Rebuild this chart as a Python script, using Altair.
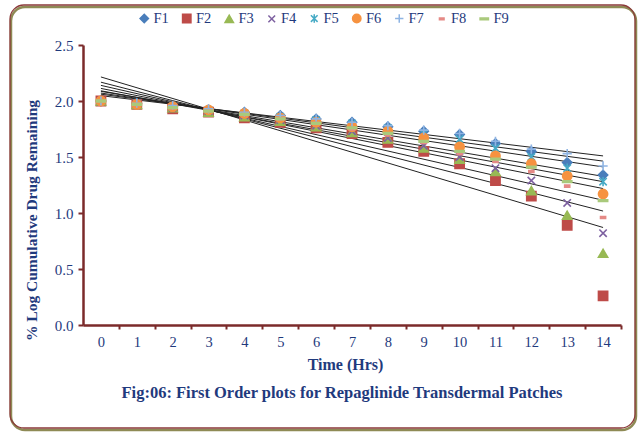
import altair as alt
import pandas as pd

times = list(range(15))
series_names = ["F1", "F2", "F3", "F4", "F5", "F6", "F7", "F8", "F9"]

F1 = [2.00, 1.98, 1.95, 1.92, 1.90, 1.87, 1.84, 1.81, 1.77, 1.73, 1.70, 1.62, 1.55, 1.45, 1.34]
F2 = [2.00, 1.97, 1.93, 1.90, 1.85, 1.81, 1.76, 1.71, 1.63, 1.55, 1.44, 1.29, 1.15, 0.89, 0.26]
F3 = [2.00, 1.97, 1.94, 1.90, 1.86, 1.82, 1.77, 1.72, 1.66, 1.58, 1.48, 1.37, 1.20, 0.98, 0.64]
F4 = [2.00, 1.97, 1.94, 1.91, 1.87, 1.83, 1.78, 1.73, 1.67, 1.60, 1.50, 1.40, 1.29, 1.09, 0.82]
F5 = [2.00, 1.98, 1.95, 1.92, 1.89, 1.86, 1.83, 1.80, 1.76, 1.71, 1.66, 1.58, 1.50, 1.40, 1.28]
F6 = [2.00, 1.97, 1.95, 1.92, 1.89, 1.85, 1.81, 1.77, 1.73, 1.67, 1.59, 1.51, 1.44, 1.33, 1.17]
F7 = [2.00, 1.98, 1.96, 1.93, 1.90, 1.87, 1.84, 1.81, 1.78, 1.74, 1.71, 1.64, 1.57, 1.53, 1.42]
F8 = [2.00, 1.97, 1.94, 1.91, 1.88, 1.84, 1.80, 1.75, 1.70, 1.63, 1.53, 1.46, 1.37, 1.24, 0.96]
F9 = [2.00, 1.97, 1.94, 1.91, 1.88, 1.84, 1.80, 1.76, 1.71, 1.64, 1.55, 1.48, 1.41, 1.28, 1.11]

all_series = [F1, F2, F3, F4, F5, F6, F7, F8, F9]

rows = []
for name, vals in zip(series_names, all_series):
    for t, v in zip(times, vals):
        rows.append({"s": name, "t": t, "v": v})
df = pd.DataFrame(rows)

colors = ["#4A7EBB", "#BE4B48", "#98B954", "#7D60A0", "#46AAC5",
          "#F69240", "#8EB4E3", "#E58A86", "#A9C97B"]
shapes = [
    "diamond",
    "square",
    "triangle-up",
    "M-0.8,-0.8L0.8,0.8M-0.8,0.8L0.8,-0.8",
    "M-0.8,-0.8L0.8,0.8M-0.8,0.8L0.8,-0.8M0,-1L0,1",
    "circle",
    "M-1,0L1,0M0,-1L0,1",
    "M-0.55,-0.22L0.55,-0.22L0.55,0.22L-0.55,0.22Z",
    "M-1,-0.18L1,-0.18L1,0.18L-1,0.18Z",
]

NAVY = "#1F3A7D"
AXC = "#7B2A2A"
SERIF = "Liberation Serif"
W, H = 538, 280
band = W / 15

color_scale = alt.Scale(domain=series_names, range=colors)
shape_scale = alt.Scale(domain=series_names, range=shapes)

x_axis = alt.Axis(
    values=times, format="d", title="Time (Hrs)",
    tickOffset=band / 2, labelOffset=-band / 2,
    labelOverlap=False, labelFlush=False,
    tickSize=4, tickColor=AXC, tickWidth=2,
    domainColor=AXC, domainWidth=2.5, grid=False,
    labelFont=SERIF, labelFontSize=14.5, labelColor=NAVY, labelPadding=6,
    titleFont=SERIF, titleFontSize=16, titleFontWeight="bold", titleColor=NAVY,
    titleX=262, titleY=39, titleBaseline="middle",
)
y_axis = alt.Axis(
    values=[0, 0.5, 1.0, 1.5, 2.0, 2.5], format=".1f",
    title="% Log Cumulative  Drug Remaining",
    tickSize=5, tickColor=AXC, tickWidth=2,
    domainColor=AXC, domainWidth=2.5, grid=False,
    labelFont=SERIF, labelFontSize=15, labelColor=NAVY, labelPadding=5,
    titleFont=SERIF, titleFontSize=15.5, titleFontWeight="bold", titleColor=NAVY,
    titleX=-52, titleY=175, titleBaseline="middle",
)
x_scale = alt.Scale(domain=[-0.5, 14.5], nice=False, zero=False)
y_scale = alt.Scale(domain=[0, 2.5], nice=False)

legend = alt.Legend(
    orient="none", legendX=54, legendY=-34, direction="horizontal", columns=9,
    title=None, labelFont=SERIF, labelFontSize=14.5, labelFontWeight="normal",
    labelColor=NAVY, symbolSize=70, symbolStrokeWidth=1.5, columnPadding=10.5,
    labelOffset=2,
)

points = alt.Chart(df).mark_point(size=85, strokeWidth=1.6, opacity=1).encode(
    x=alt.X("t:Q", scale=x_scale, axis=x_axis),
    y=alt.Y("v:Q", scale=y_scale, axis=y_axis),
    fill=alt.Fill("s:N", scale=color_scale, legend=legend, sort=series_names),
    stroke=alt.Stroke("s:N", scale=color_scale, legend=legend, sort=series_names),
    shape=alt.Shape("s:N", scale=shape_scale, legend=legend, sort=series_names),
)

lines = alt.Chart(df).transform_regression(
    "t", "v", groupby=["s"]
).mark_line(color="#222222", strokeWidth=1).encode(
    x=alt.X("t:Q", scale=x_scale, axis=x_axis),
    y=alt.Y("v:Q", scale=y_scale, axis=y_axis),
    detail="s:N",
)

frame_df = pd.DataFrame({"a": [0]})
shadow = alt.Chart(frame_df).mark_rect(
    fill=None, stroke="#8E8A55", strokeWidth=2.5, cornerRadius=14
).encode(x=alt.value(-72), y=alt.value(-38), x2=alt.value(553), y2=alt.value(385))
frame = alt.Chart(frame_df).mark_rect(
    fill=None, stroke="#8B3A3A", strokeWidth=1.3, cornerRadius=14
).encode(x=alt.value(-73), y=alt.value(-40), x2=alt.value(552), y2=alt.value(383))

caption = alt.Chart(frame_df).mark_text(
    text="Fig:06: First Order  plots for Repaglinide Transdermal Patches",
    font=SERIF, fontSize=16.5, fontWeight="bold", color=NAVY, align="center",
    baseline="middle",
).encode(x=alt.value(259), y=alt.value(348))

chart = alt.layer(shadow, frame, lines, points, caption).properties(
    width=W, height=H,
    padding={"left": 83, "top": 45, "right": 18, "bottom": 107},
    autosize=alt.AutoSizeParams(type="none"),
    background="white",
).configure_view(stroke=None)

chart.save("out.html", embed_options={"renderer": "svg", "actions": False})
